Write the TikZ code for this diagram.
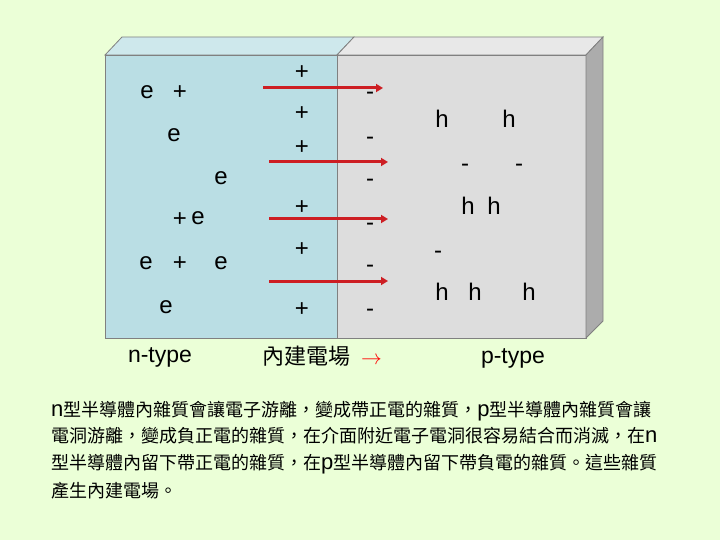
\documentclass[tikz,border=0pt]{standalone}
\usepackage{fontspec}
\setmainfont{Liberation Sans}
\newfontfamily\cjk{Noto Sans CJK TC}
\usetikzlibrary{arrows.meta,positioning}
\definecolor{bg}{RGB}{235,255,215}
\definecolor{nf}{RGB}{186,222,228}
\definecolor{nt}{RGB}{206,232,236}
\definecolor{pf}{RGB}{221,221,221}
\definecolor{pt}{RGB}{232,232,232}
\definecolor{ps}{RGB}{172,172,172}
\definecolor{ed}{RGB}{128,128,128}
\definecolor{fr}{RGB}{205,30,35}
\tikzset{face/.style={draw=ed,line width=.8pt},
 q/.style={inner sep=0pt,font=\fontsize{24}{24}\selectfont},
 lbl/.style={anchor=base,inner sep=0pt,font=\fontsize{23}{23}\selectfont},
 txt/.style={anchor=base west,inner sep=0pt,font=\cjk\fontsize{18}{18}\selectfont},
 fld/.style={draw=fr,line width=3pt,-{Triangle[length=7pt,width=8pt]}}}
\newcommand{\lat}[1]{{\fontspec{Liberation Sans}\fontsize{22}{22}\selectfont #1}}

\begin{document}
\begin{tikzpicture}[x=1pt,y=-1pt]
\useasboundingbox (0,0) rectangle (720,540);
\fill[bg] (0,0) rectangle (720,540);
\draw[face,fill=nf] (105,55) rectangle (337,338);
\draw[face,fill=nt] (105,55)--(122,37)--(354,37)--(337,55)--cycle;
\draw[face,fill=pf] (337,55) rectangle (586,338);
\draw[face,fill=pt] (337,55)--(354,37)--(603,37)--(586,55)--cycle;
\draw[face,fill=ps] (586,55)--(603,37)--(603,321)--(586,338)--cycle;
\foreach \xa/\xb/\y [count=\i] in {263/383/88,269/388/162,269/388/219,269/388/281}{
  \coordinate (f\i s) at (\xa,\y);
  \coordinate (f\i e) at (\xb,\y);
  \draw[fld] (f\i s)--(f\i e);}
\foreach \x/\y/\t [count=\i] in {147/92/e,180/93/+,174/135/e,221/178/e,180/220/+,198/218/e,
  146/263/e,180/264/+,221/263/e,166/307/e}
  \node[q] (n\i) at (\x,\y) {\t};
\foreach \y [count=\i] in {73,114,148,208,250,310}
  \node[q] (d\i) at (302,\y) {+};
\foreach \y [count=\i] in {96,141,183,227,269,313}
  \node[q] (a\i) at (370,\y) {-};
\foreach \x/\y/\t [count=\i] in {442/119/h,509/119/h,465/168/-,519/168/-,468/206/h,494/206/h,
  438/255/-,442/292/h,475/292/h,529/292/h}
  \node[q] (p\i) at (\x,\y) {\t};
\node[lbl] (ntype) at (160,362) {n-type};
\node[lbl] (ptype) at (513,363) {p-type};
\node[anchor=base west,inner sep=0pt] (field) at (262,364)
  {\cjk\fontsize{22}{22}\selectfont 內建電場\hspace{11pt}\textcolor{red}{$\rightarrow$}};
\node[txt] (t1) at (51,416) {\lat{n}型半導體內雜質會讓電子游離，變成帶正電的雜質，\lat{p}型半導體內雜質會讓};
\node[txt] (t2) at (51,442) {電洞游離，變成負正電的雜質，在介面附近電子電洞很容易結合而消滅，在\lat{n}};
\node[txt] (t3) at (51,469) {型半導體內留下帶正電的雜質，在\lat{p}型半導體內留下帶負電的雜質。這些雜質};
\node[txt] (t4) at (51,497) {產生內建電場。};
\end{tikzpicture}
\end{document}
